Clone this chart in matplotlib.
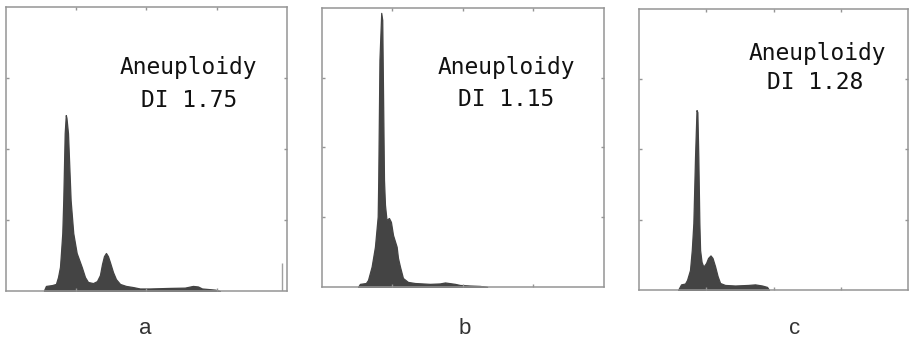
import matplotlib
matplotlib.use('Agg')
from matplotlib import pyplot as plt

# DNA histograms: channel (0-256) vs relative count (0-100 % of full scale)
a_channel = [34.6, 36.4, 41.9, 45.5, 47.4, 49.2, 50.1, 51.3, 52.2, 53.5, 54.5, 55.1, 56.5,
             58.9, 61.3, 64.4, 69.0, 72.0, 74.7, 79.3, 82.9, 85.6, 87.5, 89.3, 91.1, 92.9,
             94.7, 97.5, 100.2, 103.9, 109.3, 115.7, 122.0, 131.0, 149.4, 163.0, 170.4,
             175.0, 178.6, 190.4, 195.0]
a_count = [0.2, 1.8, 2.1, 2.5, 4.9, 8.5, 13.4, 20.4, 32.0, 55.6, 62.0, 61.0, 55.6,
           32.0, 20.4, 13.4, 8.5, 4.9, 3.2, 2.8, 3.5, 5.6, 9.5, 12.3, 13.4, 12.3,
           10.2, 6.7, 4.2, 2.5, 1.8, 1.4, 0.9, 0.9, 1.1, 1.2, 1.8,
           1.6, 0.9, 0.5, 0.0]

b_channel = [32.7, 34.5, 39.9, 41.8, 45.1, 48.1, 50.6, 51.1, 52.2, 53.8, 54.7, 56.3, 57.2,
             58.6, 60.8, 62.6, 64.5, 67.8, 69.0, 70.8, 73.5, 78.0, 84.4, 98.0, 107.0,
             111.7, 120.7, 125.3, 134.4, 143.4, 150.0]
b_count = [0.0, 1.1, 1.4, 2.5, 7.3, 14.4, 25.2, 38.4, 81.4, 98.2, 95.7, 38.4, 29.4,
           24.0, 24.7, 23.3, 18.6, 14.4, 10.4, 7.3, 3.2, 1.8, 1.4, 1.1, 1.25,
           1.6, 1.1, 0.7, 0.5, 0.36, 0.0]

c_channel = [37.1, 40.0, 43.8, 45.7, 48.5, 50.2, 51.7, 53.3, 54.7, 55.5, 56.4, 57.4, 58.1,
             59.5, 61.2, 63.8, 65.7, 68.0, 69.9, 72.3, 74.7, 77.1, 81.8, 91.4, 103.7,
             110.4, 117.0, 121.8, 123.7]
c_count = [0.0, 2.0, 2.3, 3.6, 7.1, 14.2, 23.8, 47.4, 64.0, 63.3, 47.4, 23.8, 14.2,
           10.0, 8.3, 9.6, 11.4, 12.3, 11.4, 8.5, 5.0, 2.5, 1.8, 1.6, 1.8,
           2.0, 1.6, 1.1, 0.0]

panel_labels = ['a', 'b', 'c']
di_values = ['1.75', '1.15', '1.28']
edge_channel = 252   # overflow channel spike in panel a
edge_count = 10

fig = plt.figure(figsize=(9.09, 3.42), dpi=100)
rects = [[0.0066, 0.149, 0.309, 0.830],
         [0.3542, 0.161, 0.3102, 0.816],
         [0.703, 0.152, 0.296, 0.822]]
text_pos = [(0.648, 0.789, 0.652, 0.672),
            (0.654, 0.785, 0.654, 0.670),
            (0.662, 0.843, 0.656, 0.737)]
label_x = [145 / 909, 465 / 909, 795 / 909]

fill = '#444444'
frame = '#959595'
series = [(a_channel, a_count), (b_channel, b_count), (c_channel, c_count)]

for i, (ch, cnt) in enumerate(series):
    ax = fig.add_axes(rects[i])
    ax.fill_between(ch, cnt, 0, color=fill, linewidth=0.9, edgecolor=fill)
    if i == 0:
        ax.vlines(edge_channel, 0, edge_count, color='#a0a0a0', linewidth=1.0)
    ax.set_xlim(0, 256)
    ax.set_ylim(0, 100)
    ax.set_xticks([64, 128, 192])
    ax.set_yticks([25, 50, 75])
    ax.tick_params(direction='in', length=2.5, width=1, color=frame,
                   top=True, right=True, labelbottom=False, labelleft=False)
    for s in ax.spines.values():
        s.set_color(frame)
        s.set_linewidth(1.1)
    tx, ty, dx, dy = text_pos[i]
    ax.text(tx, ty, 'Aneuploidy', transform=ax.transAxes, ha='center', va='center',
            family='DejaVu Sans Mono', fontsize=16.5, color='#111111')
    ax.text(dx, dy, 'DI ' + di_values[i], transform=ax.transAxes, ha='center', va='center',
            family='DejaVu Sans Mono', fontsize=16.5, color='#111111')
    fig.text(label_x[i], 1 - 328 / 342, panel_labels[i], ha='center', va='center',
             family='Liberation Sans', fontsize=16, color='#333333')

fig.savefig('out.png', dpi=100)
